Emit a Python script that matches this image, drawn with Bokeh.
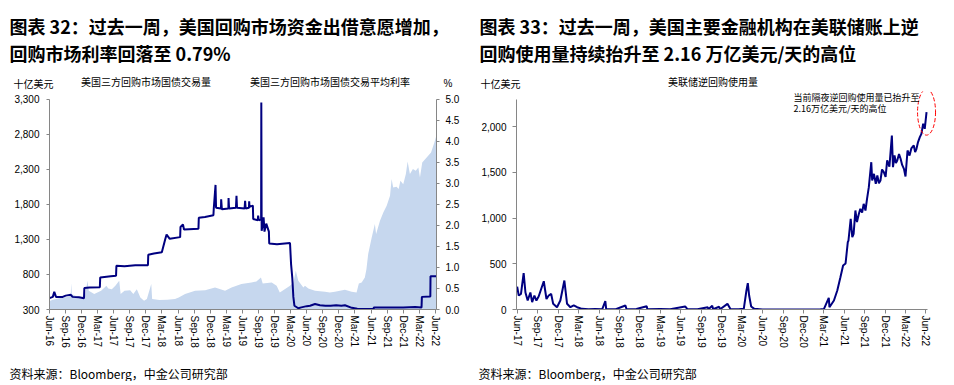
import pandas as pd
from bokeh.plotting import figure
from bokeh.layouts import row, column
from bokeh.models import (Range1d, LinearAxis, FixedTicker, NumeralTickFormatter,
                          DatetimeTickFormatter, Label, Legend, LegendItem)
from bokeh.core.properties import value
from bokeh.embed import file_html
from bokeh.resources import INLINE

# ---------------- data ----------------
vol_dates = ["2016-06-01", "2016-06-20", "2016-07-15", "2016-08-15", "2016-09-15", "2016-09-30",
             "2016-10-02", "2016-10-06", "2016-11-01", "2016-12-01", "2016-12-20", "2017-01-03",
             "2017-01-10", "2017-02-10", "2017-03-21", "2017-04-10", "2017-04-20", "2017-05-01",
             "2017-05-21", "2017-06-10", "2017-07-02", "2017-07-10", "2017-08-01", "2017-09-02",
             "2017-09-20", "2017-10-10", "2017-10-30", "2017-11-20", "2017-12-06", "2017-12-31",
             "2018-01-05", "2018-02-15", "2018-04-01", "2018-05-15", "2018-06-05", "2018-07-11",
             "2018-09-06", "2018-11-02", "2018-12-28", "2019-01-15", "2019-02-23", "2019-04-01",
             "2019-05-27", "2019-07-23", "2019-08-20", "2019-09-15", "2019-09-25", "2019-11-15",
             "2019-12-13", "2019-12-31", "2020-01-28", "2020-02-27", "2020-03-17", "2020-03-31",
             "2020-04-14", "2020-05-13", "2020-05-22", "2020-06-10", "2020-07-18", "2020-09-13",
             "2020-10-10", "2020-11-08", "2021-01-04", "2021-02-11", "2021-03-11", "2021-03-24",
             "2021-04-09", "2021-04-27", "2021-05-06", "2021-05-16", "2021-06-05", "2021-06-23",
             "2021-06-30", "2021-07-22", "2021-08-10", "2021-08-29", "2021-09-17", "2021-09-26",
             "2021-10-05", "2021-10-24", "2021-11-05", "2021-11-15", "2021-12-01", "2021-12-16",
             "2021-12-26", "2022-01-08", "2022-01-25", "2022-02-10", "2022-02-25", "2022-03-06",
             "2022-03-19", "2022-04-13", "2022-05-08", "2022-05-27", "2022-06-07"]
vol_vals = [420, 440, 455, 470, 480, 520,
            676, 520, 490, 480, 500, 709,
            567, 520, 567, 614, 640, 600,
            590, 637, 709, 520, 567, 576,
            520, 590, 470, 424, 448, 662,
            448, 434, 440, 448, 470, 520,
            567, 576, 614, 600, 567, 614,
            662, 685, 700, 756, 670, 685,
            637, 543, 590, 637, 685, 852,
            709, 614, 638, 600, 567, 552,
            543, 552, 581, 552, 543, 671,
            685, 756, 875, 1090, 1327, 1518,
            1375, 1565, 1683, 1779, 1921, 2159,
            2040, 2050, 2017, 2135, 2087, 2231,
            2410, 2231, 2302, 2280, 2326, 2183,
            2396, 2468, 2539, 2681, 2777]

rate_dates = ["2016-06-01", "2016-06-20", "2016-06-28", "2016-07-08", "2016-08-15", "2016-09-01",
              "2016-09-30", "2016-10-10", "2016-11-15", "2016-12-14", "2016-12-16", "2017-01-15",
              "2017-03-14", "2017-03-16", "2017-05-15", "2017-06-14", "2017-06-16", "2017-08-01",
              "2017-10-01", "2017-12-12", "2017-12-14", "2018-01-15", "2018-03-01", "2018-03-21",
              "2018-03-28", "2018-04-15", "2018-06-13", "2018-06-15", "2018-06-29", "2018-07-05",
              "2018-09-25", "2018-09-27", "2018-11-01", "2018-12-19", "2018-12-21", "2018-12-31",
              "2019-01-03", "2019-01-31", "2019-02-01", "2019-02-05", "2019-03-14", "2019-03-15",
              "2019-03-18", "2019-04-26", "2019-04-29", "2019-05-02", "2019-06-14", "2019-06-17",
              "2019-06-20", "2019-07-09", "2019-07-10", "2019-07-12", "2019-07-31", "2019-08-02",
              "2019-08-28", "2019-08-30", "2019-09-03", "2019-09-16", "2019-09-17", "2019-09-19",
              "2019-09-30", "2019-10-05", "2019-10-15", "2019-10-30", "2019-11-01", "2019-12-15",
              "2020-02-27", "2020-03-04", "2020-03-11", "2020-03-17", "2020-03-23", "2020-04-14",
              "2020-05-01", "2020-06-01", "2020-06-20", "2020-07-18", "2020-08-15", "2020-09-15",
              "2020-10-15", "2020-11-15", "2020-12-15", "2021-01-04", "2021-02-12", "2021-03-15",
              "2021-04-19", "2021-06-16", "2021-06-17", "2021-09-01", "2021-12-01", "2022-02-07",
              "2022-03-15", "2022-03-17", "2022-05-04", "2022-05-05", "2022-06-07"]
rate_vals = [0.27, 0.30, 0.42, 0.30, 0.30, 0.33,
             0.35, 0.30, 0.29, 0.27, 0.51, 0.52,
             0.53, 0.76, 0.79, 0.80, 1.04, 1.03,
             1.05, 1.05, 1.30, 1.33, 1.36, 1.68,
             1.78, 1.68, 1.72, 1.96, 2.02, 1.90,
             1.92, 2.18, 2.20, 2.24, 2.40, 2.96,
             2.42, 2.40, 2.62, 2.38, 2.40, 2.65,
             2.40, 2.42, 2.70, 2.42, 2.40, 2.58,
             2.40, 2.42, 2.57, 2.44, 2.47, 2.15,
             2.12, 2.23, 2.12, 2.15, 4.92, 1.87,
             2.19, 1.85, 2.04, 1.85, 1.57, 1.55,
             1.58, 1.08, 0.75, 0.30, 0.09, 0.03,
             0.05, 0.08, 0.09, 0.13, 0.10, 0.09,
             0.09, 0.10, 0.09, 0.10, 0.04, 0.02,
             0.01, 0.01, 0.05, 0.05, 0.05, 0.06,
             0.05, 0.30, 0.31, 0.79, 0.79]

rrp_dates = ["2017-05-31", "2017-06-07", "2017-06-17", "2017-06-29", "2017-07-07", "2017-07-17",
             "2017-07-29", "2017-08-06", "2017-08-16", "2017-08-25", "2017-09-04", "2017-09-27",
             "2017-10-09", "2017-10-19", "2017-10-30", "2017-11-08", "2017-11-25", "2017-12-10",
             "2017-12-28", "2018-01-09", "2018-01-24", "2018-02-08", "2018-02-23", "2018-03-17",
             "2018-04-15", "2018-05-15", "2018-06-15", "2018-06-29", "2018-07-03", "2018-08-15",
             "2018-09-27", "2018-10-02", "2018-11-15", "2018-12-31", "2019-01-03", "2019-03-01",
             "2019-04-15", "2019-06-21", "2019-07-01", "2019-08-15", "2019-09-30", "2019-10-03",
             "2019-10-20", "2019-10-24", "2019-11-20", "2019-11-24", "2019-12-27", "2020-01-10",
             "2020-02-15", "2020-03-09", "2020-03-21", "2020-03-27", "2020-04-02", "2020-04-11",
             "2020-04-25", "2020-06-01", "2020-09-01", "2020-12-01", "2021-02-15", "2021-03-02",
             "2021-03-24", "2021-03-27", "2021-04-16", "2021-05-01", "2021-05-15", "2021-05-27",
             "2021-06-07", "2021-06-17", "2021-06-20", "2021-06-30", "2021-07-07", "2021-07-13",
             "2021-07-21", "2021-07-28", "2021-08-05", "2021-08-12", "2021-08-20", "2021-08-27",
             "2021-09-04", "2021-09-11", "2021-09-19", "2021-09-30", "2021-10-04", "2021-10-12",
             "2021-10-20", "2021-10-27", "2021-11-03", "2021-11-10", "2021-11-17", "2021-11-25",
             "2021-12-03", "2021-12-10", "2021-12-20", "2021-12-31", "2022-01-05", "2022-01-12",
             "2022-01-18", "2022-01-24", "2022-02-01", "2022-02-08", "2022-02-15", "2022-02-23",
             "2022-03-02", "2022-03-11", "2022-03-20", "2022-03-28", "2022-04-08", "2022-04-14",
             "2022-04-20", "2022-04-27", "2022-05-05", "2022-05-12", "2022-05-20", "2022-05-27",
             "2022-06-04"]
rrp_vals = [250, 153, 170, 397, 186, 98,
            186, 80, 153, 98, 142, 309,
            115, 153, 170, 62, 25, 98,
            317, 62, 25, 44, 25, 7,
            3, 5, 2, 91, 5, 3,
            44, 3, 5, 36, 3, 5,
            3, 33, 3, 2, 25, 3,
            40, 3, 30, 3, 62, 3,
            3, 7, 208, 288, 153, 33,
            7, 0, 0, 0, 2, 4,
            128, 25, 98, 208, 353, 481,
            503, 736, 754, 991, 790, 827,
            1082, 955, 1040, 1100, 1060, 1155,
            1082, 1210, 1337, 1610, 1410, 1483,
            1374, 1465, 1380, 1410, 1530, 1501,
            1450, 1629, 1560, 1902, 1555, 1683,
            1600, 1629, 1700, 1647, 1580, 1537,
            1454, 1738, 1683, 1760, 1793, 1720,
            1756, 1830, 1884, 1920, 2030, 1975,
            2157]

left_tick_dates = ["2016-06-01", "2016-09-01", "2016-12-01", "2017-03-01", "2017-06-01",
                   "2017-09-01", "2017-12-01", "2018-03-01", "2018-06-01", "2018-09-01",
                   "2018-12-01", "2019-03-01", "2019-06-01", "2019-09-01", "2019-12-01",
                   "2020-03-01", "2020-06-01", "2020-09-01", "2020-12-01", "2021-03-01",
                   "2021-06-01", "2021-09-01", "2021-12-01", "2022-03-01", "2022-06-01"]
right_tick_dates = left_tick_dates[4:]
vol_ticks = [300, 800, 1300, 1800, 2300, 2800, 3300]
rate_ticks = [0.0, 0.5, 1.0, 1.5, 2.0, 2.5, 3.0, 3.5, 4.0, 4.5, 5.0]
rrp_ticks = [0, 500, 1000, 1500, 2000]

title_left = ["图表 32：过去一周，美国回购市场资金出借意愿增加，", "回购市场利率回落至 0.79%"]
title_right = ["图表 33：过去一周，美国主要金融机构在美联储账上逆", "回购使用量持续抬升至 2.16 万亿美元/天的高位"]
source_text = "资料来源：Bloomberg，中金公司研究部"
unit_text = "十亿美元"
pct_text = "%"
vol_name = "美国三方回购市场国债交易量"
rate_name = "美国三方回购市场国债交易平均利率"
rrp_name = "美联储逆回购使用量"
note_lines = ["当前隔夜逆回购使用量已抬升至", "2.16万亿美元/天的高位"]

# ---------------- styles ----------------
CJK = "Noto Sans CJK SC"
NUM = "Liberation Sans"
NAVY = "#000080"
AREA = "#C6D7EE"
AXIS = "#868686"


def ms(d):
    return pd.Timestamp(d).value / 1e6


def to_ms(lst):
    return [ms(d) for d in lst]


fmt = DatetimeTickFormatter(microseconds="%b-%y", milliseconds="%b-%y", seconds="%b-%y",
                            minsec="%b-%y", minutes="%b-%y", hourmin="%b-%y", hours="%b-%y",
                            days="%b-%y", months="%b-%y", years="%b-%y")


def style_axis(ax, tick_out, standoff):
    ax.axis_line_color = AXIS
    ax.axis_line_width = 1
    ax.major_tick_line_color = AXIS
    ax.major_tick_out = tick_out
    ax.major_tick_in = 0
    ax.minor_tick_line_color = None
    ax.major_label_text_font = NUM
    ax.major_label_text_font_size = "10px"
    ax.major_label_text_color = "black"
    ax.major_label_standoff = standoff


def text_strip(width, top, bottom):
    # a plain drawing area whose data coordinates equal picture pixels
    f = figure(width=width, height=bottom - top, min_border_left=0, min_border_right=0,
               min_border_top=0, min_border_bottom=0,
               x_range=Range1d(0, width), y_range=Range1d(bottom, top),
               x_axis_location=None, y_axis_location=None, output_backend="svg",
               toolbar_location=None, outline_line_color=None)
    f.xgrid.visible = False
    f.ygrid.visible = False
    return f


def put(f, xs, ys, texts, size, bold=False, font=CJK):
    f.text(x=xs, y=ys, text=texts, text_font=value(font), text_font_size=value(f"{size}px"),
           text_font_style=value("bold" if bold else "normal"), text_color="black",
           text_align="left", text_baseline="middle")


def make_legend(item, x, y, gw):
    return Legend(items=[item], location=(x, y), orientation="horizontal",
                  glyph_width=gw, glyph_height=9, label_standoff=2, label_height=12,
                  padding=0, margin=0, spacing=0, border_line_color=None,
                  background_fill_alpha=0, label_text_font=CJK, label_text_font_size="10px",
                  label_text_color="black")


W_ALL = 946
HEAD_BOT = 91          # charts' frames start right below the header
FRAME_H = 309 - HEAD_BOT

# ---------------- header: titles, units, legends ----------------
head = text_strip(W_ALL, 0, HEAD_BOT)
put(head, [9, 9, 479, 479], [25, 52, 25, 52],
    [title_left[0], title_left[1], title_right[0], title_right[1]], 18, bold=True)
put(head, [13, 480], [83, 83], [unit_text, unit_text], 10)
put(head, [443], [83], [pct_text], 10, font=NUM)

h_area = head.varea(x=[], y1=[], y2=[], fill_color=AREA)
h_rate = head.line(x=[], y=[], line_color=NAVY, line_width=2)
h_rrp = head.line(x=[], y=[], line_color=NAVY, line_width=2)
head.add_layout(make_legend(LegendItem(label=vol_name, renderers=[h_area]), 66, 2, 13))
head.add_layout(make_legend(LegendItem(label=rate_name, renderers=[h_rate]), 233, 2, 15))
head.add_layout(make_legend(LegendItem(label=rrp_name, renderers=[h_rrp]), 653, 2, 13))

# ---------------- left chart ----------------
# axis 300..3300 spans 210.4 px; the frame reaches a little higher, the axes stop at 3300 / 5.0
vol_top = 300 + FRAME_H * 3000 / 210.4
rate_top = FRAME_H * 5 / 210.4
p1 = figure(width=477, height=FRAME_H + 53, min_border_left=49, min_border_right=41,
            min_border_top=0, min_border_bottom=53, x_axis_type="datetime",
            x_range=Range1d(ms("2016-06-01"), ms("2022-06-08")), y_range=Range1d(300, vol_top),
            output_backend="svg", toolbar_location=None, outline_line_color=None)
p1.xgrid.visible = False
p1.ygrid.visible = False
p1.extra_y_ranges = {"rate": Range1d(0, rate_top)}

p1.varea(x=to_ms(vol_dates), y1=0, y2=vol_vals, fill_color=AREA)
p1.line(x=to_ms(rate_dates), y=rate_vals, y_range_name="rate", line_color=NAVY, line_width=2)

xa = p1.xaxis[0]
xa.ticker = FixedTicker(ticks=to_ms(left_tick_dates))
xa.formatter = fmt
xa.major_label_orientation = "vertical"
style_axis(xa, 4, 2)
ya = p1.yaxis[0]
ya.ticker = FixedTicker(ticks=vol_ticks)
ya.formatter = NumeralTickFormatter(format="0,0")
ya.bounds = (300, 3300)
style_axis(ya, 3, 7)
ra = LinearAxis(y_range_name="rate", ticker=FixedTicker(ticks=rate_ticks),
                formatter=NumeralTickFormatter(format="0.0"), bounds=(0, 5))
style_axis(ra, 3, 6)
p1.add_layout(ra, "right")

# ---------------- right chart ----------------
rrp_top = FRAME_H * 2000 / 183.0
p2 = figure(width=469, height=FRAME_H + 53, min_border_left=39, min_border_right=9,
            min_border_top=0, min_border_bottom=53, x_axis_type="datetime",
            x_range=Range1d(ms("2017-05-28"), ms("2022-07-23")), y_range=Range1d(0, rrp_top),
            output_backend="svg", toolbar_location=None, outline_line_color=None)
p2.xgrid.visible = False
p2.ygrid.visible = False

rrp_x = to_ms(rrp_dates)
p2.line(x=rrp_x, y=rrp_vals, line_color=NAVY, line_width=2)
p2.ellipse(x=[rrp_x[-1]], y=[rrp_vals[-1]], width=18, height=46,
           width_units="screen", height_units="screen",
           fill_color=None, line_color="#FF0000", line_dash="4 2", line_width=1)

xb = p2.xaxis[0]
xb.ticker = FixedTicker(ticks=to_ms(right_tick_dates))
xb.formatter = fmt
xb.major_label_orientation = "vertical"
xb.bounds = (ms("2017-05-28"), ms("2022-06-09"))
style_axis(xb, 4, 2)
yb = p2.yaxis[0]
yb.ticker = FixedTicker(ticks=rrp_ticks)
yb.formatter = NumeralTickFormatter(format="0,0")
yb.bounds = (0, 2295)
style_axis(yb, 4, 6)

for line_text, dy in zip(note_lines, [212, 201]):
    p2.add_layout(Label(x=277, y=dy, x_units="screen", y_units="screen",
                        text=line_text, text_font=CJK, text_font_size="9px",
                        text_baseline="middle", text_color="black"))

# ---------------- footer ----------------
foot = text_strip(W_ALL, 362, 381)
put(foot, [9, 478], [373, 373], [source_text, source_text], 12)

layout = column(head, row(p1, p2), foot)
open("out.html", "w").write(file_html(layout, INLINE))
